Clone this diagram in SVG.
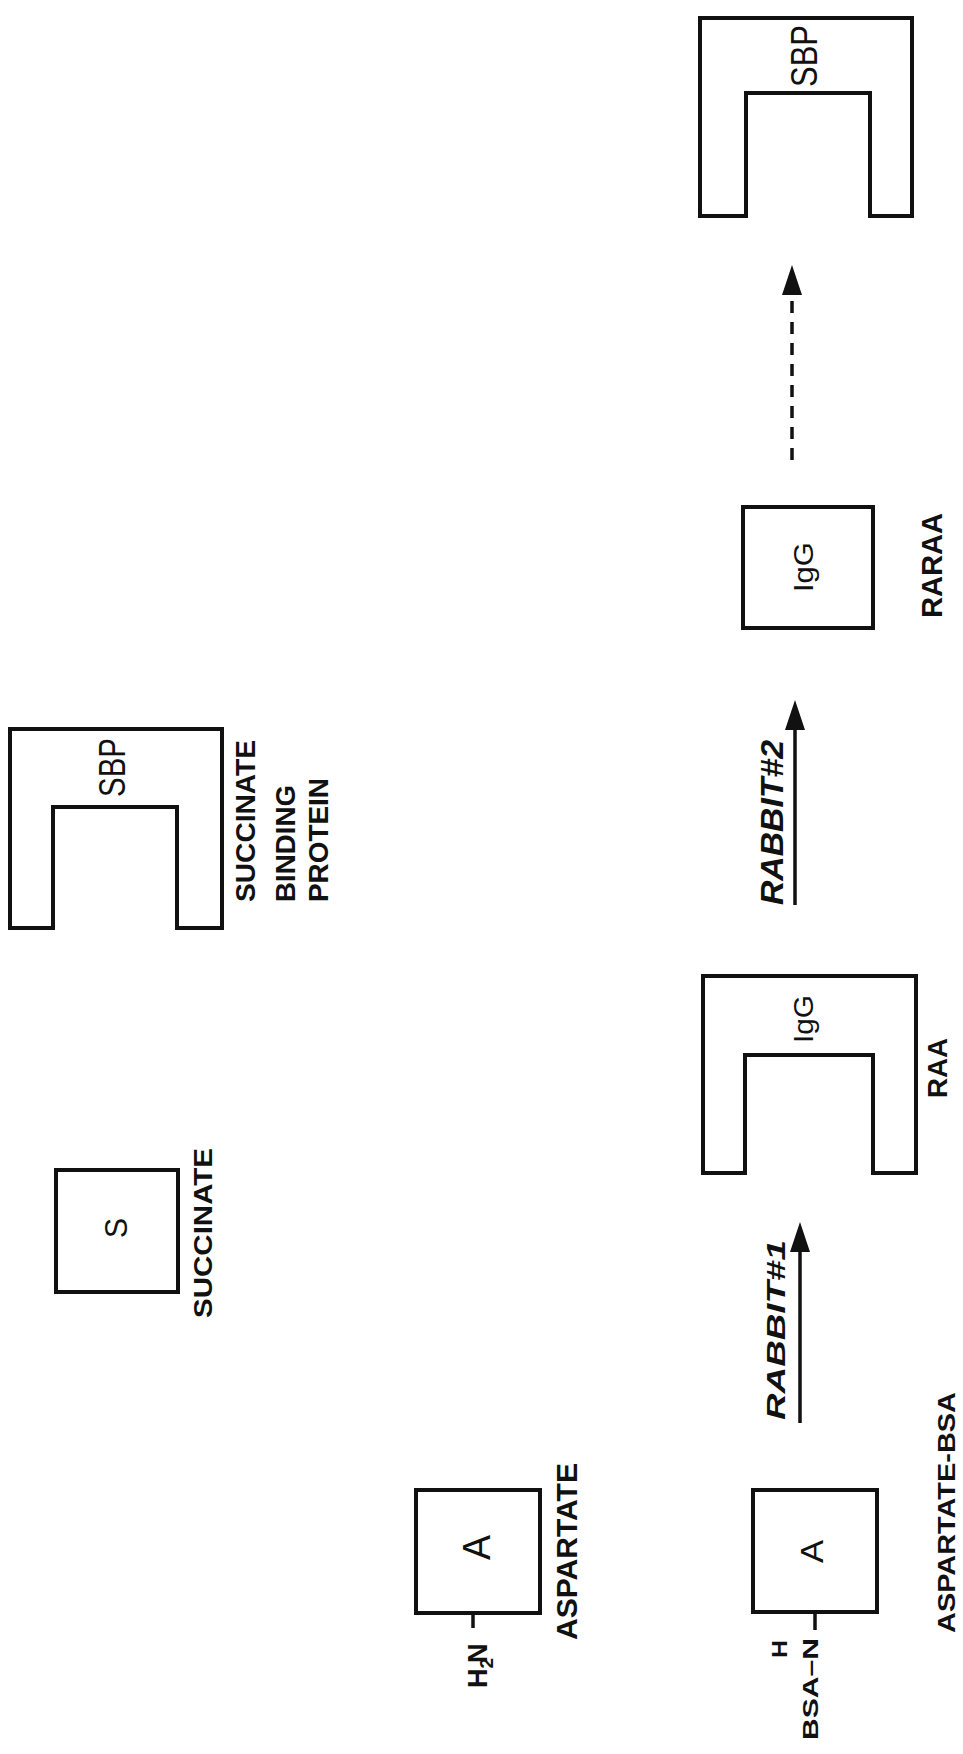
<svg xmlns="http://www.w3.org/2000/svg" width="963" height="1754" viewBox="0 0 963 1754">
<style>
.shape{fill:none;stroke:#111;stroke-width:4;stroke-linejoin:miter}
.bond{stroke:#111;stroke-width:3.5}
.lbl{font-family:"Liberation Sans",Arial,sans-serif;font-weight:bold;fill:#111}
.in{font-family:"Liberation Sans",Arial,sans-serif;fill:#111}
.rab{font-family:"Liberation Sans",Arial,sans-serif;font-weight:bold;font-style:italic;fill:#111}
.arr{stroke:#111;stroke-width:3.5;fill:none}
</style>
<defs>
<marker id="head" viewBox="0 0 30 20" markerWidth="30" markerHeight="20" refX="15" refY="10" orient="auto" markerUnits="userSpaceOnUse">
<path d="M0,0 L30,10 L0,20 Z" fill="#111"/>
</marker>
</defs>
<rect width="963" height="1754" fill="#fff"/>

<g id="sbp-right">
<path class="shape" d="M700,216 V18 H912 V216 H870 V93 H746 V216 Z"/>
<text class="in" font-size="36" textLength="62" lengthAdjust="spacingAndGlyphs" transform="translate(817,87) rotate(-90)">SBP</text>
</g>

<g id="raraa">
<rect class="shape" x="743" y="507" width="130" height="121"/>
<text class="in" font-size="28" textLength="50" lengthAdjust="spacingAndGlyphs" transform="translate(813,592) rotate(-90)">IgG</text>
<text class="lbl" font-size="29" textLength="105" lengthAdjust="spacingAndGlyphs" transform="translate(942,618) rotate(-90)">RARAA</text>
</g>

<g id="raa">
<path class="shape" d="M703,1173 V976 H916 V1173 H873 V1055 H745 V1173 Z"/>
<text class="in" font-size="28" textLength="48" lengthAdjust="spacingAndGlyphs" transform="translate(813,1043) rotate(-90)">IgG</text>
<text class="lbl" font-size="27" textLength="60" lengthAdjust="spacingAndGlyphs" transform="translate(947,1098) rotate(-90)">RAA</text>
</g>

<g id="aspartate-bsa">
<rect class="shape" x="753" y="1490" width="124" height="122"/>
<text class="in" font-size="32" textLength="23" lengthAdjust="spacingAndGlyphs" transform="translate(823,1563) rotate(-90)">A</text>
<line class="bond" x1="815" y1="1612" x2="815" y2="1630"/>
<text class="lbl" font-size="22" textLength="18" lengthAdjust="spacingAndGlyphs" transform="translate(787,1658) rotate(-90)">H</text>
<text class="lbl" font-size="22" textLength="102" lengthAdjust="spacingAndGlyphs" transform="translate(818,1740) rotate(-90)">BSA–N</text>
<text class="lbl" font-size="23" textLength="241" lengthAdjust="spacingAndGlyphs" transform="translate(955,1633) rotate(-90)">ASPARTATE-BSA</text>
</g>

<g id="aspartate">
<rect class="shape" x="416" y="1490" width="124" height="123"/>
<text class="in" font-size="38" textLength="25" lengthAdjust="spacingAndGlyphs" transform="translate(490,1560) rotate(-90)">A</text>
<line class="bond" x1="473" y1="1613" x2="473" y2="1628"/>
<text class="lbl" font-size="27" transform="translate(487,1688) rotate(-90)">H<tspan font-size="19" dy="6">2</tspan><tspan dy="-6" dx="-5">N</tspan></text>
<text class="lbl" font-size="30" textLength="177" lengthAdjust="spacingAndGlyphs" transform="translate(577,1640) rotate(-90)">ASPARTATE</text>
</g>

<g id="succinate">
<rect class="shape" x="56" y="1170" width="122" height="122"/>
<text class="in" font-size="32" textLength="20" lengthAdjust="spacingAndGlyphs" transform="translate(127,1238) rotate(-90)">S</text>
<text class="lbl" font-size="26" textLength="170" lengthAdjust="spacingAndGlyphs" transform="translate(212,1318) rotate(-90)">SUCCINATE</text>
</g>

<g id="sbp-left">
<path class="shape" d="M10,928 V729 H222 V928 H177 V807 H53 V928 Z"/>
<text class="in" font-size="36" textLength="59" lengthAdjust="spacingAndGlyphs" transform="translate(125,797) rotate(-90)">SBP</text>
<text class="lbl" font-size="27" textLength="162" lengthAdjust="spacingAndGlyphs" transform="translate(255,902) rotate(-90)">SUCCINATE</text>
<text class="lbl" font-size="27" textLength="117" lengthAdjust="spacingAndGlyphs" transform="translate(295,902) rotate(-90)">BINDING</text>
<text class="lbl" font-size="27" textLength="124" lengthAdjust="spacingAndGlyphs" transform="translate(328,902) rotate(-90)">PROTEIN</text>
</g>

<g id="connectors">
<line class="arr" x1="800" y1="1423" x2="800" y2="1237" marker-end="url(#head)"/>
<text class="rab" font-size="26" textLength="180" lengthAdjust="spacingAndGlyphs" transform="translate(785,1420) rotate(-90)">RABBIT#1</text>
<line class="arr" x1="795" y1="905" x2="795" y2="715" marker-end="url(#head)"/>
<text class="rab" font-size="32" textLength="165" lengthAdjust="spacingAndGlyphs" transform="translate(783,905) rotate(-90)">RABBIT#2</text>
<line class="arr" x1="792" y1="460" x2="792" y2="280" stroke-dasharray="12 9" marker-end="url(#head)"/>
</g>
</svg>
